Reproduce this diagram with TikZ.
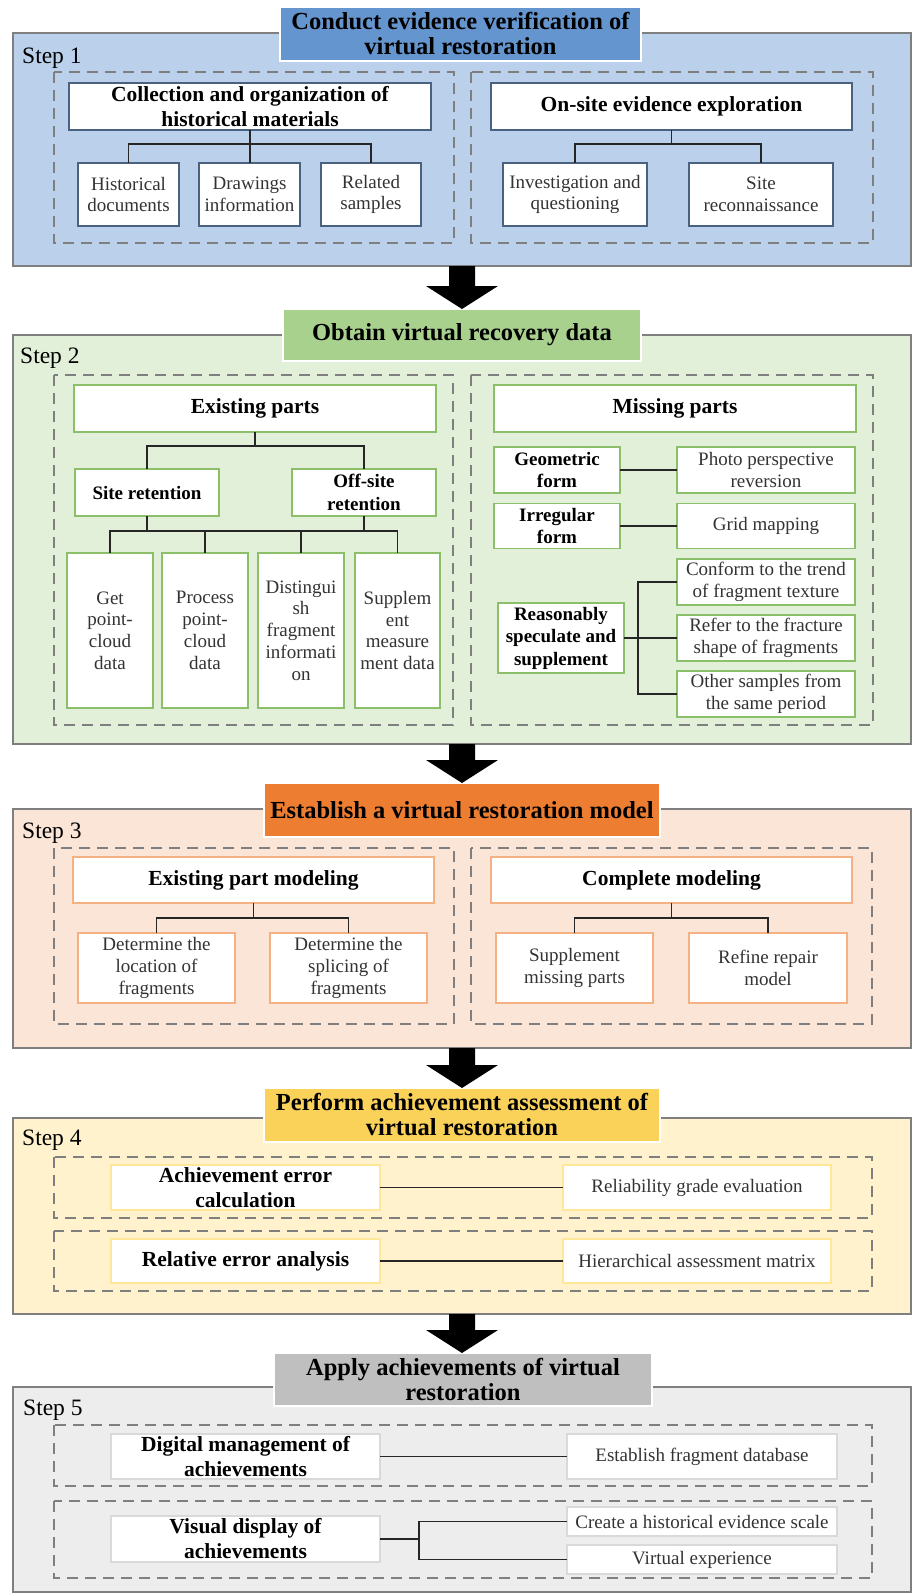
\documentclass[tikz,border=0pt]{standalone}
\usepackage{fontspec}
\setmainfont{Liberation Serif}
\usetikzlibrary{calc}
\definecolor{framegray}{HTML}{7F7F7F}
\definecolor{dashgray}{HTML}{7F7F7F}
\definecolor{wirec}{HTML}{262626}
\definecolor{txtgray}{HTML}{333333}
\definecolor{t1c}{HTML}{6595CE}
\definecolor{f1c}{HTML}{BAD0EB}
\definecolor{b1c}{HTML}{4A6282}
\definecolor{t2c}{HTML}{A9D18E}
\definecolor{f2c}{HTML}{E2F0D9}
\definecolor{b2c}{HTML}{8CBF6A}
\definecolor{t3c}{HTML}{ED7D31}
\definecolor{f3c}{HTML}{FBE5D6}
\definecolor{b3c}{HTML}{F4B183}
\definecolor{t4c}{HTML}{FAD25A}
\definecolor{f4c}{HTML}{FFF2CC}
\definecolor{b4c}{HTML}{FFE699}
\definecolor{t5c}{HTML}{BFBFBF}
\definecolor{f5c}{HTML}{EDEDED}
\definecolor{b5c}{HTML}{D9D9D9}
\tikzset{
  sz/.style 2 args={minimum width=#1pt, minimum height=#2pt},
  frame/.style={draw=framegray, line width=2.5pt, inner sep=0pt, outer sep=0pt},
  dbox/.style={draw=dashgray, line width=1.8pt, dash pattern=on 11pt off 7pt},
  ttl/.style={draw=white, line width=1.5pt, inner sep=0pt, outer sep=0pt, align=center, text=black, font=\fontsize{24.5}{25}\selectfont\bfseries},
  bx/.style={fill=white, line width=1.3pt, inner sep=0pt, outer sep=0pt, align=center, text=txtgray, font=\fontsize{19}{21.8}\selectfont},
  bh/.style={bx, text=black, font=\fontsize{21.5}{25}\selectfont\bfseries},
  bs/.style={bx, text=black, font=\fontsize{19}{22.5}\selectfont\bfseries},
  wire/.style={draw=wirec, line width=1.5pt},
  steplbl/.style={anchor=base west, inner sep=0pt, font=\fontsize{23.5}{26}\selectfont},
  barrow/.style={fill=black},
}
\begin{document}
\begin{tikzpicture}[x=1pt,y=-1pt]
\useasboundingbox (0,0) rectangle (914,1593);
\fill[white] (0,0) rectangle (914,1593);

% ---------- frames ----------
\node[frame, fill=f1c, sz={898}{233}] (s1) at (462,149.5) {};
\node[frame, fill=f2c, sz={898}{409}] (s2) at (462,539.5) {};
\node[frame, fill=f3c, sz={898}{239}] (s3) at (462,928.5) {};
\node[frame, fill=f4c, sz={898}{196}] (s4) at (462,1216) {};
\node[frame, fill=f5c, sz={898}{205}] (s5) at (462,1489.5) {};

% ---------- titles ----------
\node[ttl, fill=t1c, sz={361}{54}] (t1) at (460.5,34) {Conduct evidence verification of\\virtual restoration};
\node[ttl, fill=t2c, sz={358}{52}] (t2) at (462,335) {Obtain virtual recovery data};
\node[ttl, fill=t3c, sz={396}{54}] (t3) at (462,810) {Establish a virtual restoration model};
\node[ttl, fill=t4c, sz={396}{54}] (t4) at (462,1115) {Perform achievement assessment of\\virtual restoration};
\node[ttl, fill=t5c, sz={378}{53}] (t5) at (463,1379.5) {Apply achievements of virtual\\restoration};

% ---------- step labels ----------
\node[steplbl] (l1) at (22,63) {Step 1};
\node[steplbl] (l2) at (20,363) {Step 2};
\node[steplbl] (l3) at (22,838) {Step 3};
\node[steplbl] (l4) at (22,1145) {Step 4};
\node[steplbl] (l5) at (23,1415) {Step 5};

% ---------- dashed groups ----------
\draw[dbox] (54,72) rectangle (454,243);
\draw[dbox] (471,72) rectangle (873,243);
\draw[dbox] (54,375) rectangle (453,725);
\draw[dbox] (471,375) rectangle (873,725);
\draw[dbox] (54,848) rectangle (454,1024);
\draw[dbox] (471,848) rectangle (872,1024);
\draw[dbox] (54,1157) rectangle (872,1218);
\draw[dbox] (54,1231) rectangle (872,1291);
\draw[dbox] (54,1425) rectangle (872,1486);
\draw[dbox] (54,1501) rectangle (872,1578);

% ---------- step 1 ----------
\node[bh, draw=b1c, sz={362}{47}] (coll) at (250,106.5) {Collection and organization of\\historical materials};
\node[bh, draw=b1c, sz={361}{47}] (onsite) at (671.5,106.5) {On-site evidence exploration};
\node[bx, draw=b1c, sz={101}{63}] (hist) at (128.5,194.5) {Historical\\documents};
\node[bx, draw=b1c, sz={101}{63}] (drw) at (249.5,194.5) {Drawings\\information};
\node[bx, draw=b1c, sz={100}{63}] (rels) at (371,194.5) {Related\\samples};
\node[bx, draw=b1c, sz={144}{63}] (inv) at (575,194.5) {Investigation and\\questioning};
\node[bx, draw=b1c, sz={144}{63}] (siter) at (761,194.5) {Site\\reconnaissance};
\path (coll.south) ++(0,14) coordinate (j1);
\draw[wire] (coll.south) -- (coll.south |- drw.north);
\draw[wire] (hist.north) |- (rels.north |- j1) -- (rels.north);
\path (onsite.south) ++(0,14) coordinate (j2);
\draw[wire] (onsite.south) -- (j2);
\draw[wire] (inv.north) |- (siter.north |- j2) -- (siter.north);

% ---------- step 2 ----------
\node[bh, draw=b2c, sz={362}{47}] (exist) at (255,408.5) {Existing parts};
\node[bh, draw=b2c, sz={362}{47}] (miss) at (675,408.5) {Missing parts};
\node[bs, draw=b2c, sz={144}{47}] (siteret) at (147,492.5) {Site retention};
\node[bs, draw=b2c, sz={144}{47}] (offret) at (364,492.5) {Off-site\\retention};
\node[bx, draw=b2c, sz={86}{155}] (getp) at (110,630.5) {Get\\point-\\cloud\\data};
\node[bx, draw=b2c, sz={86}{155}] (proc) at (205,630.5) {Process\\point-\\cloud\\data};
\node[bx, draw=b2c, sz={86}{155}] (dist) at (301,630.5) {Distingui\\sh\\fragment\\informati\\on};
\node[bx, draw=b2c, sz={85}{155}] (supm) at (397.5,630.5) {Supplem\\ent\\measure\\ment data};
\path (exist.south) ++(0,14) coordinate (j3);
\draw[wire] (exist.south) -- (j3);
\draw[wire] (siteret.north) |- (offret.north |- j3) -- (offret.north);
\path (siteret.south) ++(0,15) coordinate (j4);
\draw[wire] (siteret.south) -- (j4);
\draw[wire] (offret.south) -- (offret.south |- j4);
\draw[wire] (getp.north) |- (supm.north |- j4) -- (supm.north);
\draw[wire] (proc.north) -- (proc.north |- j4);
\draw[wire] (dist.north) -- (dist.north |- j4);

\node[bs, draw=b2c, sz={126}{46}] (geo) at (557,470) {Geometric\\form};
\node[bx, draw=b2c, sz={178}{46}] (photo) at (766,470) {Photo perspective\\reversion};
\node[bs, draw=b2c, sz={126}{45}] (irr) at (557,526) {Irregular\\form};
\node[bx, draw=b2c, sz={178}{45}] (grid) at (766,526) {Grid mapping};
\node[bs, draw=b2c, sz={126}{70}] (reas) at (561,638) {Reasonably\\speculate and\\supplement};
\node[bx, draw=b2c, sz={178}{46}] (conf) at (766,582) {Conform to the trend\\of fragment texture};
\node[bx, draw=b2c, sz={178}{46}] (refer) at (766,638) {Refer to the fracture\\shape of fragments};
\node[bx, draw=b2c, sz={178}{46}] (other) at (766,694) {Other samples from\\the same period};
\draw[wire] (geo.east) -- (photo.west);
\draw[wire] (irr.east) -- (grid.west);
\path (reas.east) ++(14,0) coordinate (rj);
\draw[wire] (reas.east) -- (refer.west);
\draw[wire] (conf.west) -| (rj) |- (other.west);

% ---------- step 3 ----------
\node[bh, draw=b3c, sz={361}{46}] (epm) at (253.5,880) {Existing part modeling};
\node[bh, draw=b3c, sz={361}{46}] (cmod) at (671.5,880) {Complete modeling};
\node[bx, draw=b3c, sz={157}{70}] (dloc) at (156.5,968) {Determine the\\location of\\fragments};
\node[bx, draw=b3c, sz={157}{70}] (dspl) at (348.5,968) {Determine the\\splicing of\\fragments};
\node[bx, draw=b3c, sz={157}{70}] (smp) at (574.5,968) {Supplement\\missing parts};
\node[bx, draw=b3c, sz={158}{70}] (rrm) at (768,968) {Refine repair\\model};
\path (epm.south) ++(0,15) coordinate (j5);
\draw[wire] (epm.south) -- (j5);
\draw[wire] (dloc.north) |- (dspl.north |- j5) -- (dspl.north);
\path (cmod.south) ++(0,15) coordinate (j6);
\draw[wire] (cmod.south) -- (j6);
\draw[wire] (smp.north) |- (rrm.north |- j6) -- (rrm.north);

% ---------- step 4 ----------
\node[bh, draw=b4c, sz={269}{45}] (aec) at (245.5,1187.5) {Achievement error\\calculation};
\node[bx, draw=b4c, sz={268}{45}] (rge) at (697,1187.5) {Reliability grade evaluation};
\node[bh, draw=b4c, sz={269}{44}] (rea) at (245.5,1261) {Relative error analysis};
\node[bx, draw=b4c, sz={268}{44}] (ham) at (697,1261) {Hierarchical assessment matrix};
\draw[wire] (aec.east) -- (rge.west);
\draw[wire] (rea.east) -- (ham.west);

% ---------- step 5 ----------
\node[bh, draw=b5c, sz={269}{45}] (dma) at (245.5,1456.5) {Digital management of\\achievements};
\node[bx, draw=b5c, sz={270}{45}] (efd) at (702,1456.5) {Establish fragment database};
\node[bh, draw=b5c, sz={269}{46}] (vda) at (245.5,1539) {Visual display of\\achievements};
\node[bx, draw=b5c, sz={270}{29}] (che) at (702,1521.5) {Create a historical evidence scale};
\node[bx, draw=b5c, sz={270}{29}] (vexp) at (702,1559.5) {Virtual experience};
\draw[wire] (dma.east) -- (efd.west);
\path (vda.east) ++(39,0) coordinate (vj);
\draw[wire] (vda.east) -- (vj);
\draw[wire] (che.west) -| (vj) |- (vexp.west);

% ---------- block arrows ----------
\foreach \a/\b in {s1/t2, s2/t3, s3/t4, s4/t5}{
  \fill[barrow] ($(\a.south)+(-13,0)$) -- ($(\a.south)+(13,0)$)
    -- ($(\a.south |- \b.north)+(13,-23)$) -- ($(\a.south |- \b.north)+(36,-23)$)
    -- (\a.south |- \b.north)
    -- ($(\a.south |- \b.north)+(-36,-23)$) -- ($(\a.south |- \b.north)+(-13,-23)$) -- cycle;
}
\end{tikzpicture}
\end{document}
